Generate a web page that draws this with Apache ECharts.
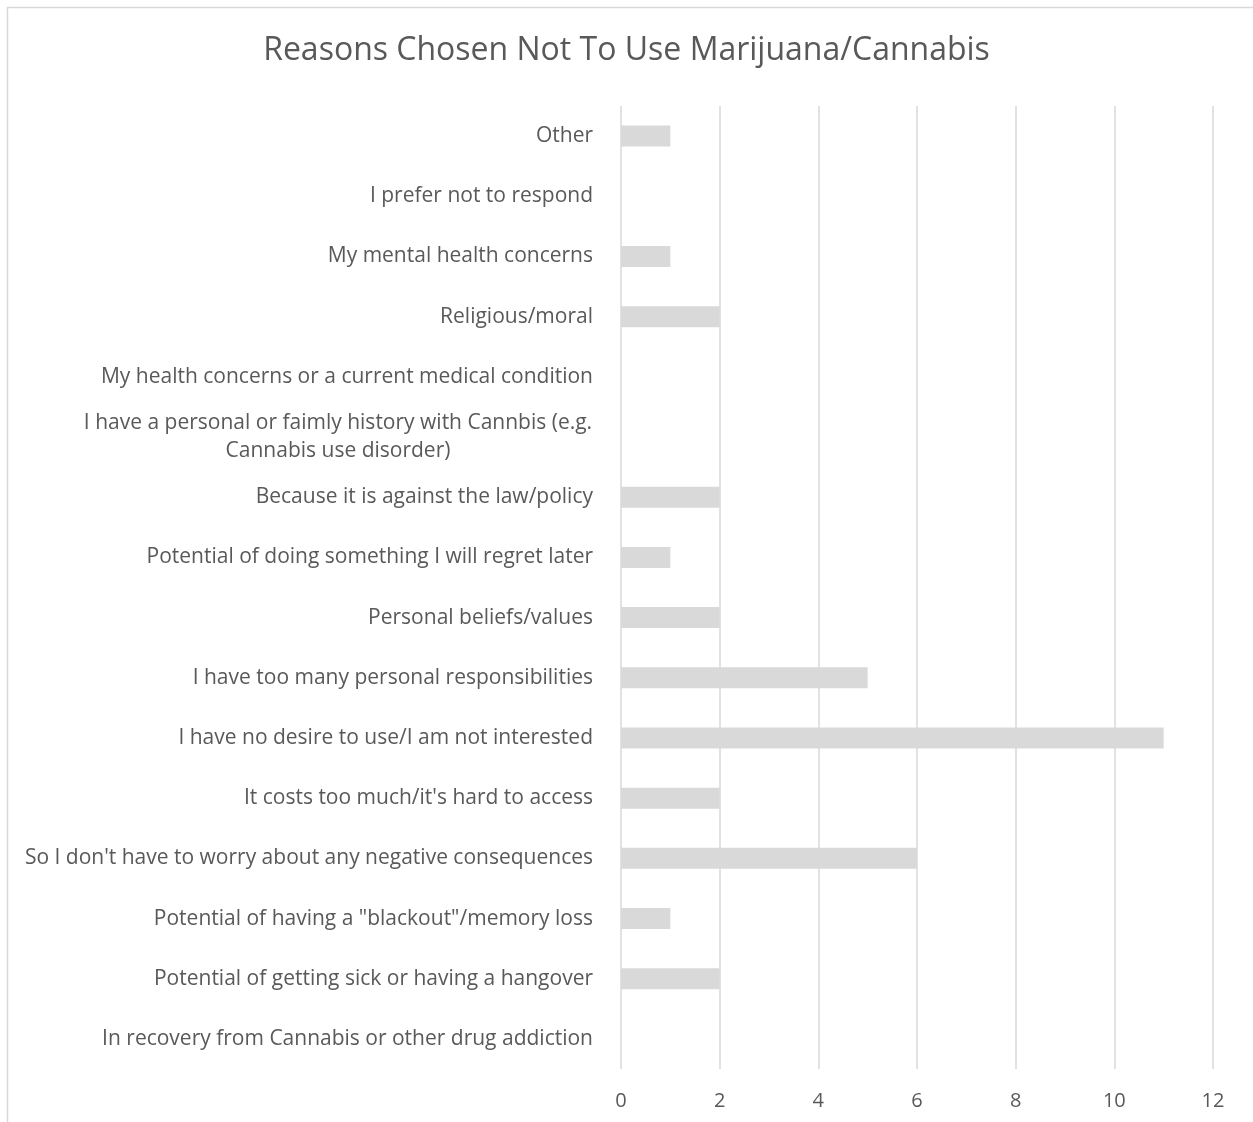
<!DOCTYPE html>
<html>
<head>
<meta charset="utf-8">
<script src="https://cdn.jsdelivr.net/npm/echarts@6/dist/echarts.min.js"></script>
<style>
html,body{margin:0;padding:0;background:#fff;}
#c{width:1253px;height:1122px;}
</style>
</head>
<body>
<div id="c"></div>
<script>
const titleText = 'Reasons Chosen Not To Use Marijuana/Cannabis';
const categories = [
  'Other',
  'I prefer not to respond',
  'My mental health concerns',
  'Religious/moral',
  'My health concerns or a current medical condition',
  'I have a personal or faimly history with Cannbis (e.g.\nCannabis use disorder)',
  'Because it is against the law/policy',
  'Potential of doing something I will regret later',
  'Personal beliefs/values',
  'I have too many personal responsibilities',
  'I have no desire to use/I am not interested',
  "It costs too much/it's hard to access",
  "So I don't have to worry about any negative consequences",
  'Potential of having a "blackout"/memory loss',
  'Potential of getting sick or having a hangover',
  'In recovery from Cannabis or other drug addiction'
];
const values = [1, 0, 1, 2, 0, 0, 2, 1, 2, 5, 11, 2, 6, 1, 2, 0];
const xTicks = [0, 2, 4, 6, 8, 10, 12];

const FONT = 'Open Sans';
const chart = echarts.init(document.getElementById('c'));
chart.setOption({
  animation: false,
  backgroundColor: '#fff',
  graphic: [{
    type: 'rect', shape: {x: 7.5, y: 7.5, width: 1300, height: 1200},
    style: {fill: 'none', stroke: '#d9d9d9', lineWidth: 1.5}, silent: true
  }],
  title: {
    text: titleText, left: 'center', top: 30,
    textStyle: {fontFamily: FONT, fontSize: 32, fontWeight: 'normal', color: '#595959'}
  },
  grid: {left: 621, right: 40, top: 106, bottom: 53, containLabel: false},
  xAxis: {
    type: 'value', min: xTicks[0], max: xTicks[xTicks.length - 1], interval: 2,
    axisLine: {show: false}, axisTick: {show: false},
    splitLine: {show: true, lineStyle: {color: '#d9d9d9', width: 1.5}},
    axisLabel: {fontFamily: FONT, fontSize: 20, color: '#595959', margin: 22}
  },
  yAxis: {
    type: 'category', data: categories, inverse: true,
    axisLine: {show: false}, axisTick: {show: false},
    axisLabel: {
      fontFamily: FONT, fontSize: 21, color: '#595959', margin: 28,
      formatter: function (v) {
        if (v.indexOf('\n') >= 0) return '{w|' + v + '}';
        return v;
      },
      rich: {w: {fontFamily: FONT, fontSize: 21, color: '#595959', width: 510, align: 'center', lineHeight: 28}}
    }
  },
  series: [{
    type: 'bar', data: values, barWidth: 21,
    itemStyle: {color: '#d9d9d9'}
  }]
});
</script>
</body>
</html>
